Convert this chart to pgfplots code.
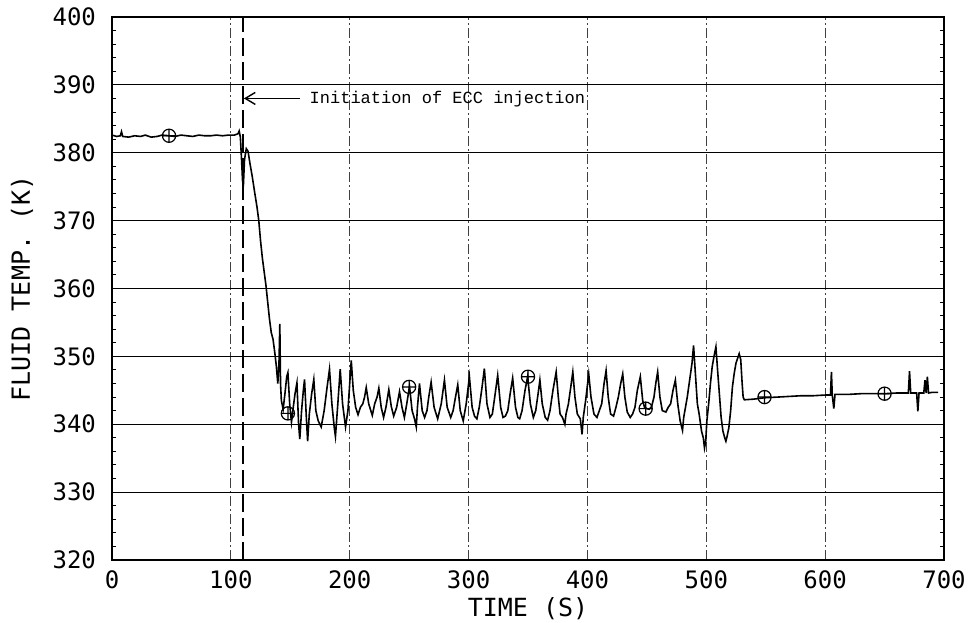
\documentclass[border=0pt]{standalone}
\usepackage{fontspec}
\usepackage{pgfplots}
\pgfplotsset{compat=1.18}
\usetikzlibrary{arrows.meta}
\newfontfamily\plotfont{DejaVu Sans Mono}
\newfontfamily\annfont{Liberation Mono}
\begin{document}
\begin{tikzpicture}
\begin{axis}[
 scale only axis, width=416pt, height=271.5pt,
 xmin=0, xmax=700, ymin=320, ymax=400,
 xtick={0,100,...,700}, ytick={320,330,...,400},
 minor y tick num=4,
 ymajorgrids, xmajorgrids,
 major y grid style={black, line width=0.5pt},
 major x grid style={black!75, line width=0.4pt, dash pattern=on 5pt off 1.5pt on 1pt off 1.5pt},
 axis line style={line width=1pt},
 major tick length=0pt, minor tick length=2pt,
 tick style={black, line width=0.5pt},
 ticklabel style={font=\plotfont\fontsize{12}{14}\selectfont},
 /pgf/number format/assume math mode=true,
 yticklabel style={xshift=-4.5pt},
 xticklabel style={yshift=-2pt},
 xlabel={TIME (S)}, ylabel={FLUID TEMP. (K)},
 label style={font=\plotfont\fontsize{12.5}{14}\selectfont},
 xlabel style={at={(axis description cs:0.5,-0.089)}, anchor=center},
 ylabel style={at={(axis description cs:-0.108,0.5)}, anchor=center},
]
\coordinate (SW) at (rel axis cs:0,0);
\coordinate (NE) at (rel axis cs:1,1);
% ECC injection line
\addplot[black, line width=0.8pt, dash pattern=on 9pt off 3pt] coordinates {(110,320) (110,400)};
% fluid temperature trace
\addplot[black, line width=0.8pt] coordinates {
(0,382.6) (4,382.4) (7,382.5) (8,383.1) (9,382.4) (14,382.3) (19,382.5) (24,382.4) (28,382.6) (33,382.3) (38,382.4) (42,382.6) (48,382.5) (53,382.4) (58,382.6) (63,382.5) (68,382.4) (73,382.6) (78,382.5) (83,382.5) (88,382.6) (93,382.5) (98,382.6) (103,382.6) (106,382.8) (107,383.2) (108,382.3)
(109,379) (109.8,376) (110.5,375) (111.5,379) (113,380.6) (114.5,380.2) (116,378.5) (118,376.5) (120,374.2) (122,372) (123.5,370) (125,367) (126.5,364.5) (128,362.5) (129.5,360.5) (131,358) (132.5,355.5) (134,353.5) (135.5,352.5) (137,350.5) (138.3,348.5) (139.5,346) (140.5,349) (141.2,354.8) (141.8,346) (142.5,343.5)
(144,342.2) (145.5,344.5) (147,347) (148,347.6) (149.5,343) (151,340.3) (152.5,342.5) (154,344.5) (155.6,346.1) (157,340) (158,337.8) (159.5,342) (161,345) (162,346.6) (163.5,341) (164.6,337.5) (166,341.5) (168,344.5) (169.8,346.6) (171.5,342) (173.5,340.5) (176,339.6) (178.5,342) (181,345.5) (183,348.1) (185,343) (187,339.5) (188,338.2) (190,343) (192,348.1) (194,343) (196.5,339.6) (198.5,342) (200,346) (201.3,349.4) (203,345) (205,342.5) (207,341.4) (209,342.5) (211,343) (212.5,344) (213.9,345.4) (216,343) (219,341.3) (221,343) (223,344) (224.5,345.3) (226.5,342.5) (228.5,341) (230.5,342.5) (232.9,345.1) (235,342.6) (237,341.2) (239.5,342.5) (241.9,344.8) (244,342.5) (246,341) (248,343) (250.3,345.6) (252.5,342) (254.5,340.8) (256,339.6) (257,342.5) (258.7,346) (261,342) (263,341) (265,342) (266.5,344) (268.5,346.2) (271,342.5) (274,340.8) (277,343) (279.7,346.5) (282,342.5) (285,341) (287,342) (289,344) (290.9,345.8) (293,342) (295.5,340.5) (298,343) (300.7,347) (303,342.5) (305,341.2) (307,340.8) (309,342.5) (311,345) (313.3,348.2) (315.5,343) (318,341) (320,341.5) (322,344) (324.5,347.2) (327,342.5) (329,341) (331,341.2) (333,342) (335,344.5) (337.1,346.8) (339.5,342.5) (341.5,341) (343,340.8) (345,342) (347.5,345) (349.7,347) (352,343) (354.5,341) (356.5,342) (358.5,344.5) (360,346.5) (362,343) (364.5,341) (366.5,340.6) (368.5,342) (371,345) (373.7,347.7) (375.5,344) (377,341.5) (379,341) (381,340) (382,341.5) (384,343) (386,345.5) (387.7,347.7) (389.5,344) (391.5,341.5) (394,340.8) (395.5,338.5) (396.5,341) (398.5,343.5) (401.1,347.4) (403,344) (405.5,341.5) (408,341) (410,342) (412,343) (414,346) (415.7,347.9) (417.5,344) (419.5,341.5) (422,341.2) (424,342.5) (426,344) (428,346) (429.7,347.4) (431.5,344) (433.5,341.8) (436,341) (438,341.5) (440,342.5) (442,345) (444.5,347) (446.5,343.5) (448,342.5) (450,342.3) (452,342.2) (454,342.6) (456,344) (457.5,346) (459.1,347.7) (461,344) (463,342) (466,341.8) (468,342.5) (470,343) (472,345) (474,346.5) (476,343) (478,340.5) (480,339.1) (481,341) (482.5,342.5) (484,344) (486,346.5) (488,349) (489.3,351.6) (491,347) (492.5,343) (494,341.5) (496,339) (497.5,338) (498.5,336.5) (499.5,337.5) (500.5,340.5) (502,343) (503.5,346) (505,348.5) (506.5,350) (508.1,351.4) (509.5,348) (511,344.5) (512.5,341) (514,339) (515.5,338) (516.5,337.5) (517.5,338.2) (519,339.5) (520.5,342) (522,345.5) (523.5,347.5) (525,349) (526.5,349.8) (527.7,350.4) (529,349.5) (530,346.5) (531,344) (532,343.6)
(540,343.7) (549,343.9) (560,344) (570,344.1) (580,344.2) (590,344.2) (600,344.3) (604.5,344.3) (605.3,347.7) (606,344.3) (607.3,342.3) (608.3,344.4) (620,344.4) (630,344.5) (640,344.5) (650,344.5) (660,344.6) (670,344.6) (671,347.8) (672,344.6) (677,344.6) (678,341.9) (679,344.6) (683,344.6) (684,346.5) (685,344.6) (686,347) (687,344.6) (690,344.7) (695,344.7)
};
% circle markers
\addplot[only marks, mark=oplus, mark size=3.3pt, mark options={line width=0.6pt}] coordinates {(48,382.5) (148,341.6) (250,345.5) (350,347) (449,342.3) (549,344) (650,344.5)};
\draw[line width=0.7pt, -{Straight Barb[length=5pt,width=6pt]}] (axis cs:158,388) -- (axis cs:111,388);
\node[anchor=west, inner sep=0pt, font=\annfont\fontsize{8.5}{10}\selectfont] at (axis cs:166,387.9) {Initiation of ECC injection};
\end{axis}
\pgfresetboundingbox
\path ([shift={(-56pt,-31.5pt)}]SW) rectangle ([shift={(13.5pt,8.5pt)}]NE);
\end{tikzpicture}
\end{document}
